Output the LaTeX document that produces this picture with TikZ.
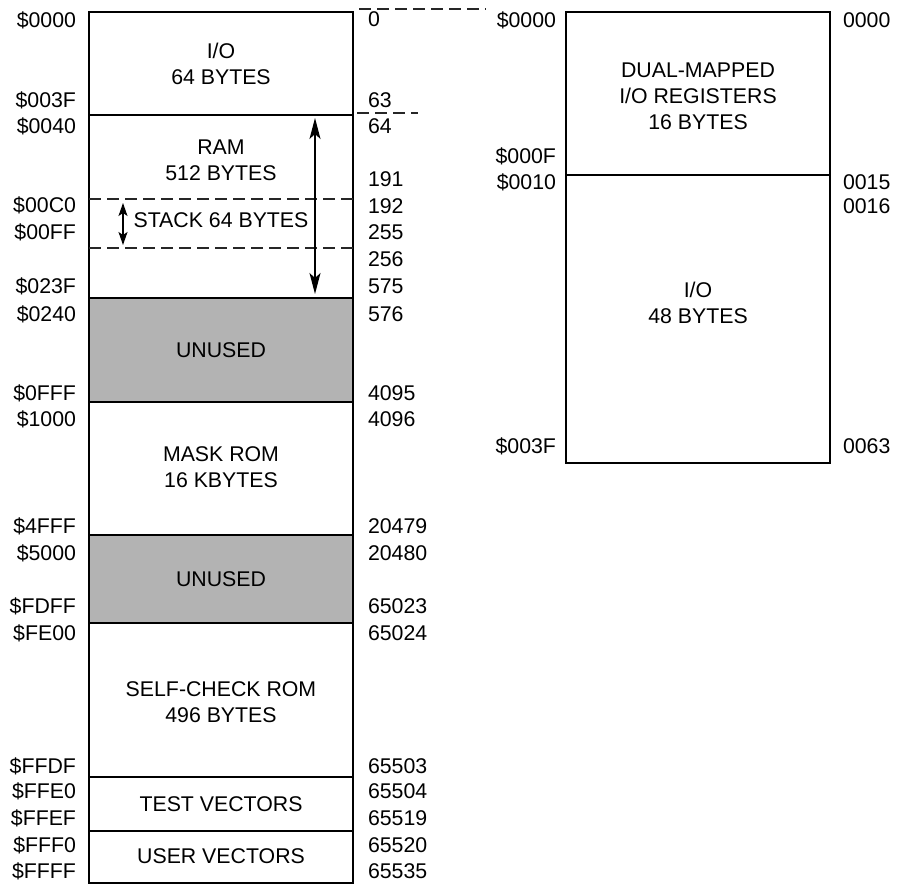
\documentclass[tikz,border=0pt]{standalone}
\usepackage{fontspec}
\setmainfont{Liberation Sans}
\usetikzlibrary{arrows.meta}
\definecolor{unusedgray}{RGB}{179,179,179}
\begin{document}
\begin{tikzpicture}[x=1pt,y=-1pt,
  every node/.style={font=\fontsize{21.3}{26}\selectfont, inner sep=0pt, outer sep=0pt},
  blk/.style={draw=black, line width=1.6pt},
  unused/.style={blk, fill=unusedgray},
  lab/.style={anchor=base east},
  num/.style={anchor=base west},
  txt/.style={align=center, anchor=center},
  sepline/.style={draw=black!85, dash pattern=on 12pt off 6pt, line width=1.2pt},
  bigarrow/.style={line width=1.3pt, {Stealth[length=21pt,width=11pt,inset=5pt]}-{Stealth[length=21pt,width=11pt,inset=5pt]}},
  smallarrow/.style={line width=1.3pt, {Stealth[length=13pt,width=9pt,inset=3pt]}-{Stealth[length=13pt,width=9pt,inset=3pt]}}]

\useasboundingbox (0,0) rectangle (899,884);

% ---------- left map ----------
\path[unused] (89,298) rectangle (353,402);
\path[unused] (89,535) rectangle (353,623);
\draw[blk] (89,12) rectangle (353,883);
\foreach \yy in {115,298,402,535,623,777,831}
  \draw[blk] (89,\yy) -- (353,\yy);

% stack dashed limits
\coordinate (sa) at (89,199);  \coordinate (sb) at (353,199);
\coordinate (sc) at (89,248);  \coordinate (sd) at (353,248);
\draw[sepline] (sa) -- (sb);
\draw[sepline] (sc) -- (sd);

% expansion dashed lines
\coordinate (ea) at (359,9);   \coordinate (eb) at (486,9);
\coordinate (ec) at (357,113); \coordinate (ed) at (418,113);
\draw[sepline] (ea) -- (eb);
\draw[sepline] (ec) -- (ed);

% arrows
\coordinate (ramtop) at (315,118);
\coordinate (rambot) at (315,294);
\draw[bigarrow] (ramtop) -- (rambot);
\coordinate (sttop) at (123,203);
\coordinate (stbot) at (123,245);
\draw[smallarrow] (sttop) -- (stbot);

% block texts
\node[txt] (tio)   at (221,64)  {I/O\\64 BYTES};
\node[txt] (tram)  at (221,160) {RAM\\512 BYTES};
\node[txt] (tstk)  at (221,220.5) {STACK 64 BYTES};
\node[txt] (tun1)  at (221,350.5) {UNUSED};
\node[txt] (trom)  at (221,467) {MASK ROM\\16 KBYTES};
\node[txt] (tun2)  at (221,579.5) {UNUSED};
\node[txt] (tself) at (221,702) {SELF-CHECK ROM\\496 BYTES};
\node[txt] (ttest) at (221,804.5) {TEST VECTORS};
\node[txt] (tuser) at (221,856.5) {USER VECTORS};

% left address labels
\foreach \t/\yy [count=\i] in {\$0000/27,\$003F/107,\$0040/133,\$00C0/212,\$00FF/239,\$023F/293,\$0240/321,\$0FFF/400,\$1000/426,\$4FFF/533,\$5000/560,\$FDFF/613,\$FE00/640,\$FFDF/773,\$FFE0/798,\$FFEF/825,\$FFF0/852,\$FFFF/878}
  \node[lab] (la\i) at (76,\yy) {\t};

% decimal labels
\foreach \t/\yy [count=\i] in {0/26,63/107,64/133,191/186,192/213,255/239,256/266,575/293,576/321,4095/400,4096/426,20479/533,20480/560,65023/613,65024/640,65503/773,65504/798,65519/825,65520/852,65535/878}
  \node[num] (ld\i) at (368,\yy) {\t};

% ---------- right map ----------
\draw[blk] (566,12) rectangle (830,463);
\draw[blk] (566,175) -- (830,175);
\node[txt] (tdual) at (698,96.5) {DUAL-MAPPED\\I/O REGISTERS\\16 BYTES};
\node[txt] (tio48) at (698,303) {I/O\\48 BYTES};

\foreach \t/\yy [count=\i] in {\$0000/27,\$000F/163,\$0010/189,\$003F/453}
  \node[lab] (ra\i) at (556,\yy) {\t};
\foreach \t/\yy [count=\i] in {0000/27,0015/189,0016/213,0063/453}
  \node[num] (rd\i) at (843,\yy) {\t};
\end{tikzpicture}
\end{document}
